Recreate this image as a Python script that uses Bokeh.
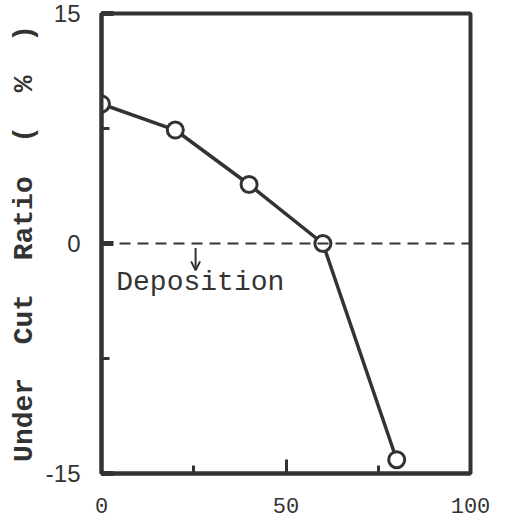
from bokeh.plotting import figure
from bokeh.models import FixedTicker, Span, Label, Arrow, OpenHead, ColumnDataSource
from bokeh.embed import file_html
from bokeh.resources import INLINE

# ---- data ----
x_vals = [0, 20, 40, 60, 80]
under_cut_ratio = [9.1, 7.4, 3.85, 0.0, -14.1]
x_ticks = [0, 50, 100]
x_minor = [25, 75]
y_ticks = [-15, 0, 15]
y_minor = [-7.5, 7.5]
y_tick_labels = {-15: "-15", 0: "0", 15: "15"}
NB = "\u00a0"
y_label = "Under" + NB * 2 + "Cut" + NB * 2 + "Ratio" + NB * 2 + "(" + NB * 2 + "%" + NB * 2 + ")"
note_text = "Deposition"

INK = "#333333"

p = figure(width=506, height=523, x_range=(0, 100), y_range=(-15, 15),
           output_backend="svg", toolbar_location=None,
           min_border_left=101, min_border_right=36,
           min_border_top=13, min_border_bottom=50)
p.grid.visible = False
p.background_fill_color = "white"
p.border_fill_color = "white"
p.outline_line_color = INK
p.outline_line_width = 4
p.outline_line_alpha = 1

# x axis
xa = p.xaxis[0]
xa.ticker = FixedTicker(ticks=x_ticks, minor_ticks=x_minor)
xa.axis_line_color = INK
xa.axis_line_width = 4
xa.major_tick_in = 14
xa.major_tick_out = 0
xa.minor_tick_in = 8
xa.minor_tick_out = 0
xa.major_tick_line_width = 3
xa.minor_tick_line_width = 3
xa.major_tick_line_color = INK
xa.minor_tick_line_color = INK
xa.major_label_text_font = "Liberation Mono"
xa.major_label_text_font_size = "22px"
xa.major_label_text_color = INK
xa.major_label_standoff = 24

# y axis
ya = p.yaxis[0]
ya.ticker = FixedTicker(ticks=y_ticks, minor_ticks=y_minor)
ya.major_label_overrides = y_tick_labels
ya.axis_line_color = INK
ya.axis_line_width = 4
ya.major_tick_in = 12
ya.major_tick_out = 0
ya.minor_tick_in = 8
ya.minor_tick_out = 0
ya.major_tick_line_width = 5
ya.minor_tick_line_width = 3
ya.major_tick_line_color = INK
ya.minor_tick_line_color = INK
ya.major_label_text_font = "Liberation Sans"
ya.major_label_text_font_size = "24px"
ya.major_label_text_color = INK
ya.major_label_standoff = 21
ya.axis_label = y_label
ya.axis_label_text_font = "Liberation Mono"
ya.axis_label_text_font_size = "28px"
ya.axis_label_text_font_style = "bold"
ya.axis_label_text_color = INK
ya.axis_label_standoff = 3

# zero reference (dashed)
p.add_layout(Span(location=0, dimension="width", line_color=INK,
                  line_width=2, line_dash="11 7"))

# arrow and note
p.add_layout(Arrow(end=OpenHead(size=9, line_width=2, line_color=INK),
                   x_start=25.5, y_start=-0.3, x_end=25.5, y_end=-1.75,
                   line_width=2, line_color=INK))
p.add_layout(Label(x=4, y=-2.55, text=note_text, text_font="Liberation Mono",
                   text_font_size="28px", text_baseline="middle",
                   text_align="left", text_color=INK))

src = ColumnDataSource(dict(x=x_vals, y=under_cut_ratio))
p.line("x", "y", source=src, line_width=3.5, line_color=INK)
p.scatter("x", "y", source=src, size=16, fill_color="white",
          line_color=INK, line_width=3)

open("out.html", "w").write(file_html(p, INLINE))
